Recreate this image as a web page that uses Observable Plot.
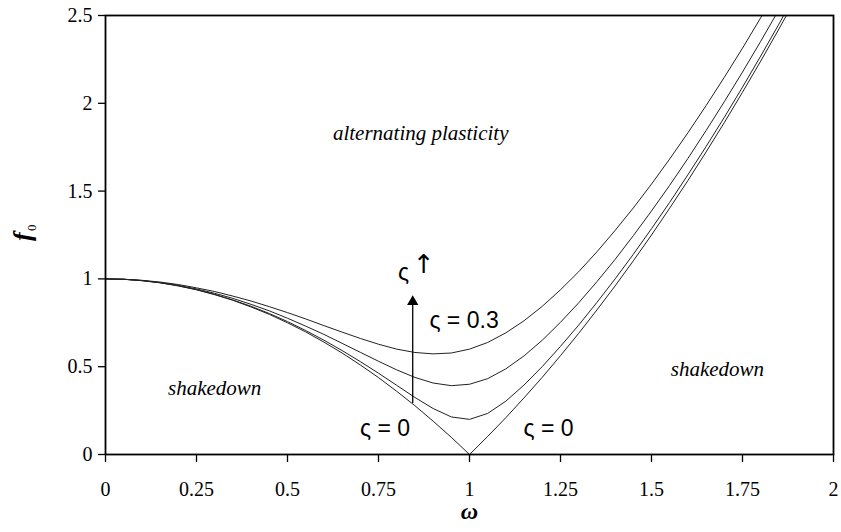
<!DOCTYPE html>
<html>
<head>
<meta charset="utf-8">
<script src="https://cdn.jsdelivr.net/npm/d3@7"></script>
<script src="https://cdn.jsdelivr.net/npm/@observablehq/plot@0.6"></script>
<style>
  html, body { margin: 0; padding: 0; background: #fff; }
  #chart { width: 841px; height: 532px; }
</style>
</head>
<body>
<div id="chart"></div>
<script>
// ω values (x)
const omega = [0, 0.05, 0.1, 0.15, 0.2, 0.25, 0.3, 0.35, 0.4, 0.45, 0.5, 0.55, 0.6, 0.65, 0.7, 0.75, 0.8, 0.85, 0.9, 0.95, 1.0,
  1.05, 1.1, 1.15, 1.2, 1.25, 1.3, 1.35, 1.4, 1.45, 1.5, 1.55, 1.6, 1.65, 1.7, 1.75, 1.8, 1.85, 1.9];
// f0, one series per ς
const f0_z0 = [1, 0.998, 0.99, 0.978, 0.96, 0.938, 0.91, 0.878, 0.84, 0.798, 0.75, 0.698, 0.64, 0.578, 0.51, 0.438, 0.36, 0.278, 0.19, 0.098, 0,
  0.103, 0.21, 0.323, 0.44, 0.563, 0.69, 0.823, 0.96, 1.103, 1.25, 1.403, 1.56, 1.723, 1.89, 2.063, 2.24, 2.423, 2.61];
const f0_z1 = [1, 0.998, 0.990, 0.978, 0.961, 0.939, 0.912, 0.880, 0.844, 0.803, 0.757, 0.706, 0.651, 0.592, 0.529, 0.463, 0.394, 0.325, 0.262, 0.214, 0.2,
  0.234, 0.304, 0.396, 0.501, 0.616, 0.737, 0.866, 1.0, 1.140, 1.286, 1.436, 1.593, 1.754, 1.920, 2.092, 2.269, 2.451, 2.638];
const f0_z2 = [1, 0.998, 0.991, 0.979, 0.963, 0.943, 0.918, 0.889, 0.855, 0.818, 0.776, 0.731, 0.684, 0.633, 0.582, 0.531, 0.482, 0.439, 0.407, 0.392, 0.4,
  0.432, 0.488, 0.562, 0.651, 0.753, 0.864, 0.984, 1.111, 1.246, 1.387, 1.533, 1.686, 1.845, 2.009, 2.178, 2.353, 2.533, 2.718];
const f0_z3 = [1, 0.998, 0.992, 0.982, 0.968, 0.949, 0.928, 0.902, 0.874, 0.842, 0.808, 0.772, 0.734, 0.697, 0.661, 0.628, 0.6, 0.581, 0.573, 0.578, 0.6,
  0.638, 0.693, 0.762, 0.844, 0.938, 1.041, 1.154, 1.276, 1.404, 1.540, 1.683, 1.832, 1.987, 2.148, 2.314, 2.487, 2.665, 2.848];

// axis ticks
const xTicks = [0, 0.25, 0.5, 0.75, 1, 1.25, 1.5, 1.75, 2];
const xTickLabels = ["0", "0.25", "0.5", "0.75", "1", "1.25", "1.5", "1.75", "2"];
const yTicks = [0, 0.5, 1, 1.5, 2, 2.5];
const yTickLabels = ["0", "0.5", "1", "1.5", "2", "2.5"];

// region labels (italic serif)
const regionText = ["alternating plasticity", "shakedown", "shakedown"];
const regionX = [0.866, 0.30, 1.681];
const regionY = [1.83, 0.376, 0.484];

// ς annotations (sans)
const zetaText = ["ς = 0.3", "ς = 0", "ς = 0", "ς"];
const zetaX = [0.985, 0.768, 1.217, 0.819];
const zetaY = [0.765, 0.150, 0.150, 1.036];
const upArrowText = ["↑"];
const upArrowX = [0.874];
const upArrowY = [1.08];

// arrow (increasing ς)
const arrowX = [0.844];
const arrowY = [0.29, 0.89];

const series = [f0_z0, f0_z1, f0_z2, f0_z3];
const lineData = series.flatMap((s, k) => s.map((v, i) => ({omega: omega[i], f0: v, k})));

const serif = "'Liberation Serif', 'Times New Roman', serif";
const sans = "'Liberation Sans', Arial, sans-serif";

const chart = Plot.plot({
  width: 841,
  height: 532,
  marginLeft: 105,
  marginRight: 8,
  marginTop: 15,
  marginBottom: 78,
  style: {fontFamily: serif, fontSize: "20px", color: "#000", background: "#fff"},
  x: {domain: [0, 2]},
  y: {domain: [0, 2.5]},
  marks: [
    Plot.line(lineData, {x: "omega", y: "f0", z: "k", stroke: "#222", strokeWidth: 1, clip: true}),
    Plot.frame({stroke: "#000", strokeWidth: 1.8}),
    Plot.axisX({ticks: xTicks, tickFormat: (d) => xTickLabels[xTicks.indexOf(d)], tickSize: 8, tickPadding: 19, label: null, fontSize: 20, fontFamily: serif, strokeWidth: 1.3}),
    Plot.axisY({ticks: yTicks, tickFormat: (d) => yTickLabels[yTicks.indexOf(d)], tickSize: 7, tickPadding: 6, label: null, fontSize: 20, fontFamily: serif, strokeWidth: 1.3}),
    Plot.ruleX(arrowX, {x: (d) => d, y1: arrowY[0], y2: arrowY[1] - 0.03, stroke: "#000", strokeWidth: 1.3}),
    Plot.dot(arrowX, {x: (d) => d, y: arrowY[1] - 0.02, symbol: "triangle", r: 4.2, fill: "#000", stroke: "none"}),
    Plot.text(regionText, {x: (d, i) => regionX[i], y: (d, i) => regionY[i], text: (d) => d, fontStyle: "italic", fontSize: 21, fontFamily: serif}),
    Plot.text(zetaText, {x: (d, i) => zetaX[i], y: (d, i) => zetaY[i], text: (d) => d, fontFamily: sans, fontSize: 23}),
    Plot.text(upArrowText, {x: (d, i) => upArrowX[i], y: (d, i) => upArrowY[i], text: (d) => d, fontFamily: "'DejaVu Sans', sans-serif", fontSize: 26, fill: "#000"}),
    Plot.text(["f"], {frameAnchor: "left", dx: -83, dy: 6, rotate: -90, text: (d) => d, fontStyle: "italic", fontWeight: "bold", fontSize: 26, fontFamily: serif}),
    Plot.text(["0"], {frameAnchor: "left", dx: -74, dy: -4, rotate: -90, text: (d) => d, fontSize: 13, fontFamily: serif}),
    Plot.text(["ω"], {frameAnchor: "bottom", dy: 64, text: (d) => d, fontStyle: "italic", fontWeight: "bold", fontSize: 24, fontFamily: serif})
  ]
});
document.getElementById("chart").appendChild(chart);
</script>
</body>
</html>
